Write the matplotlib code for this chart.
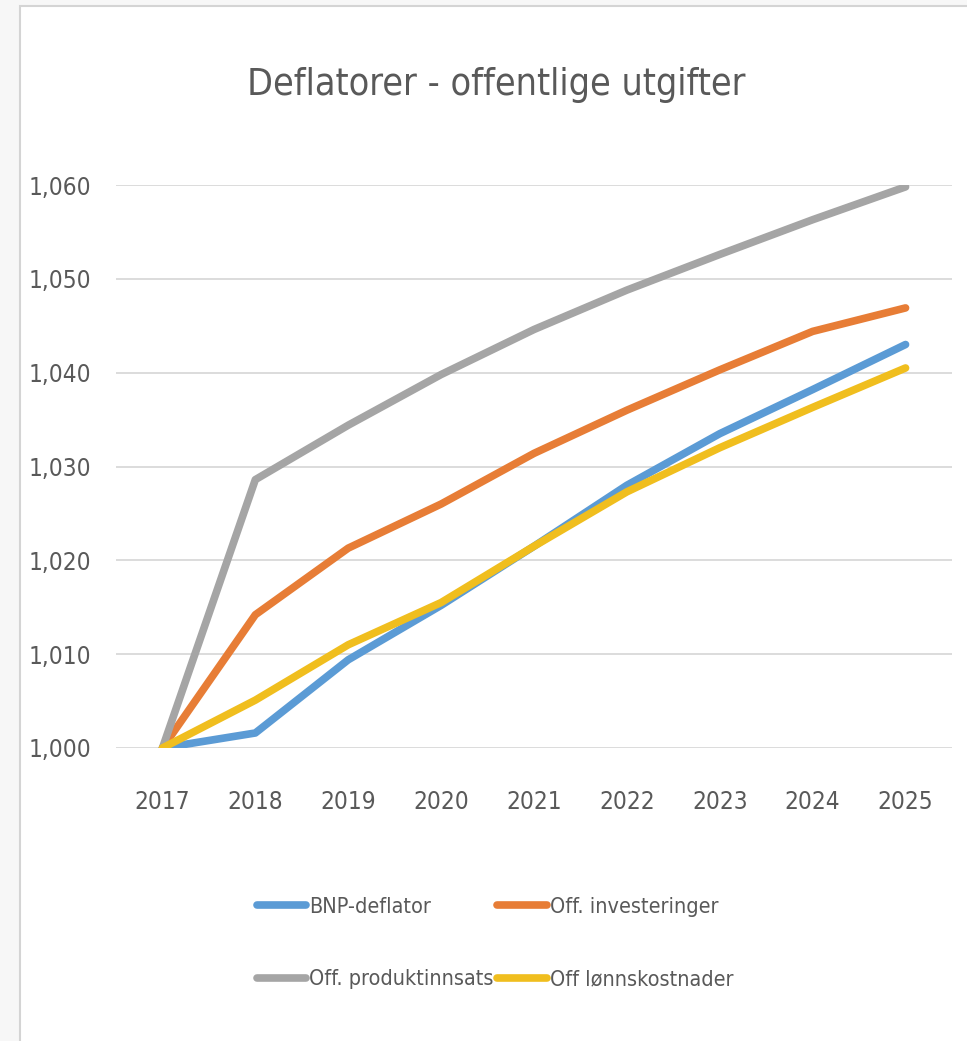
import matplotlib
matplotlib.use("Agg")
import matplotlib.pyplot as plt
import matplotlib.ticker as tkr
from matplotlib import font_manager
from matplotlib.patches import Rectangle

years = [2017, 2018, 2019, 2020, 2021, 2022, 2023, 2024, 2025]
bnp_deflator = [1.000, 1.0016, 1.0094, 1.0152, 1.0215, 1.0280, 1.0335, 1.0382, 1.0430]
off_investeringer = [1.000, 1.0142, 1.0213, 1.0260, 1.0314, 1.0360, 1.0403, 1.0444, 1.0469]
off_produktinnsats = [1.000, 1.0286, 1.0344, 1.0398, 1.0446, 1.0488, 1.0526, 1.0563, 1.0598]
off_lonnskostnader = [1.000, 1.0051, 1.0110, 1.0155, 1.0215, 1.0273, 1.0320, 1.0363, 1.0405]

series = [
    ("BNP-deflator", bnp_deflator, "#5B9BD5"),
    ("Off. investeringer", off_investeringer, "#E77D36"),
    ("Off. produktinnsats", off_produktinnsats, "#A5A5A5"),
    ("Off lønnskostnader", off_lonnskostnader, "#F0BE1E"),
]

# look for a narrow font (the original is Calibri, squeezed sideways)
narrow = [f for f in font_manager.fontManager.ttflist
          if (f.stretch in ("condensed", "semi-condensed", "extra-condensed")
              or "Narrow" in f.name or "Condensed" in f.name)
          and f.style == "normal" and f.weight in (400, "normal", "regular")]
font = narrow[0].name if narrow else "DejaVu Sans"
plt.rcParams["font.family"] = [font, "DejaVu Sans"]
if narrow:
    plt.rcParams["font.stretch"] = narrow[0].stretch
text_col = "#595959"

fig = plt.figure(figsize=(9.67, 10.41), dpi=100, facecolor="#f7f7f7")
# white chart area with thin grey frame
fig.patches.append(Rectangle((20 / 967, -0.01), 1.0, 1.01 - 6 / 1041, transform=fig.transFigure,
                             facecolor="white", edgecolor="#d4d4d4", linewidth=1.5, zorder=-5))

ax = fig.add_axes([116 / 967, 1 - 748 / 1041, (952 - 116) / 967, (748 - 185) / 1041])
ax.set_facecolor("none")
ax.set_zorder(2)

for label, vals, col in series:
    ax.plot(years, vals, color=col, linewidth=5.5, label=label, solid_capstyle="round")

ax.set_xlim(2016.5, 2025.5)
ax.set_ylim(1.000, 1.060)
ax.set_xticks(years)
ax.set_yticks([1.000, 1.010, 1.020, 1.030, 1.040, 1.050, 1.060])
ax.yaxis.set_major_formatter(tkr.FuncFormatter(lambda v, pos: f"{v:.3f}".replace(".", ",")))
ax.grid(axis="y", color="#d9d9d9", linewidth=1.3)
ax.set_axisbelow(True)
for s in ax.spines.values():
    s.set_visible(False)
tick_size = 17.5 if narrow else 14
ax.tick_params(axis="both", length=0, labelsize=tick_size, colors=text_col)
ax.tick_params(axis="y", pad=18)
ax.tick_params(axis="x", pad=30)

fig.text(0.513, 1 - 85 / 1041, "Deflatorer - offentlige utgifter", ha="center", va="center",
         fontsize=27 if narrow else 22, color=text_col)

h, l = ax.get_legend_handles_labels()
order = [0, 2, 1, 3]  # Excel fills legend row by row
fig.legend([h[i] for i in order], [l[i] for i in order], loc="center",
           bbox_to_anchor=(0.512, 1 - 943 / 1041), ncol=2, frameon=False,
           fontsize=15.5 if narrow else 13, labelcolor=text_col, handlelength=2.3,
           handletextpad=0.15, columnspacing=0.15, labelspacing=2.45)

fig.savefig("out.png", dpi=100, facecolor=fig.get_facecolor())
